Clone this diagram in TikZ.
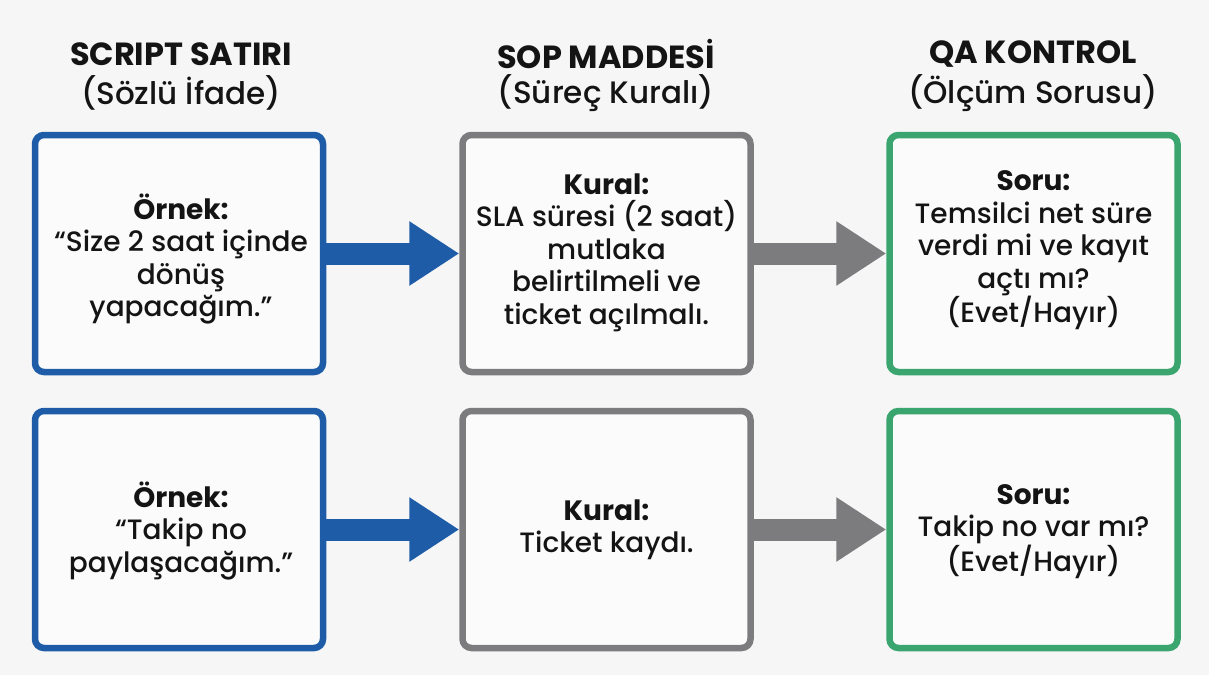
\documentclass[tikz,border=0pt]{standalone}
\usepackage{fontspec}
\setmainfont{Poppins}[UprightFont=* Medium, BoldFont=* Bold]
\usetikzlibrary{arrows.meta}
\definecolor{bg}{HTML}{F6F6F6}
\definecolor{cblue}{HTML}{1E5CA8}
\definecolor{cgray}{HTML}{7C7C7E}
\definecolor{cgreen}{HTML}{3AA56E}
\definecolor{ctext}{HTML}{141414}
\tikzset{
  box/.style={draw, line width=6.5pt, rounded corners=9pt, fill=white!60!bg,
    minimum width=288pt, minimum height=237pt},
  bluebox/.style={box, draw=cblue},
  graybox/.style={box, draw=cgray},
  greenbox/.style={box, draw=cgreen},
  boxtext/.style={align=center, text=ctext, font=\fontsize{28}{32.5}\selectfont},
  head/.style={text=ctext, font=\fontsize{32}{38}\selectfont\bfseries},
  subhead/.style={text=ctext, font=\fontsize{31}{38}\selectfont},
  bigarrow/.style={line width=22pt, -{Triangle[width=61pt,length=50pt]}},
}
\begin{document}
\begin{tikzpicture}[x=1pt,y=-1pt]
\fill[bg] (0,0) rectangle (1209,675);
\useasboundingbox (0,0) rectangle (1209,675);
% headers
\node[head] (h1) at (181,54) {SCRIPT SATIRI};
\node[subhead] (s1) at (181,93) {(Sözlü İfade)};
\node[head] (h2) at (606,54) {SOP MADDESİ};
\node[subhead] (s2) at (606,93) {(Süreç Kuralı)};
\node[head] (h3) at (1033,54) {QA KONTROL};
\node[subhead] (s3) at (1033,93) {(Ölçüm Sorusu)};
% boxes
\node[bluebox] (a1) at (179,253.5) {};
\node[graybox] (b1) at (606.5,253.5) {};
\node[greenbox] (c1) at (1033.5,253.5) {};
\node[bluebox] (a2) at (179,529.5) {};
\node[graybox] (b2) at (606.5,529.5) {};
\node[greenbox] (c2) at (1033.5,529.5) {};
% texts
\node[boxtext] (ta1) at (181,259) {\textbf{Örnek:}\\“Size 2 saat içinde\\dönüş\\yapacağım.”};
\node[boxtext] (tb1) at (606.5,252.5) {\textbf{Kural:}\\SLA süresi (2 saat)\\mutlaka\\belirtilmeli ve\\ticket açılmalı.};
\node[boxtext] (tc1) at (1033.5,250.5) {\textbf{Soru:}\\Temsilci net süre\\verdi mi ve kayıt\\açtı mı?\\(Evet/Hayır)};
\node[boxtext] (ta2) at (181,531) {\textbf{Örnek:}\\“Takip no\\paylaşacağım.”};
\node[boxtext] (tb2) at (606.5,530) {\textbf{Kural:}\\Ticket kaydı.};
\node[boxtext] (tc2) at (1033.5,531.5) {\textbf{Soru:}\\Takip no var mı?\\(Evet/Hayır)};
% arrows
\draw[bigarrow, cblue] (a1.east) -- (b1.west);
\draw[bigarrow, cgray] (b1.east) -- (c1.west);
\draw[bigarrow, cblue] (a2.east) -- (b2.west);
\draw[bigarrow, cgray] (b2.east) -- (c2.west);
\end{tikzpicture}
\end{document}
